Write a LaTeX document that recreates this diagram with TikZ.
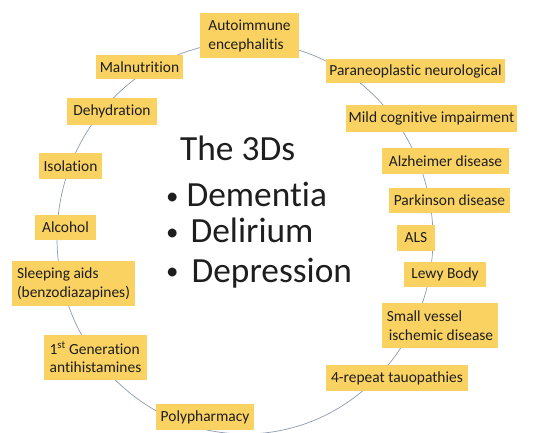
\documentclass[tikz,border=0pt]{standalone}
\usepackage{fontspec}
\setmainfont{Carlito}[Ligatures={NoCommon}]
\definecolor{amarillo}{HTML}{F9D262}
\definecolor{gris}{HTML}{8E9AAE}
\definecolor{tinta}{HTML}{1E1E1E}
\newcommand{\vineta}{\raisebox{2.5bp}{\fontsize{25}{25}\selectfont •}}

\begin{document}
\begin{tikzpicture}[x=1bp, y=-1bp,
        caja/.style={fill=amarillo, text=tinta, inner sep=2bp, align=left,
            font=\fontsize{15.5}{19}\selectfont},
        lema/.style={anchor=base west, text=tinta, inner sep=0pt,
            font=\fontsize{35.5}{42}\selectfont}]
        % Parámetros
        \def\rx{188}     % Semieje horizontal del anillo
        \def\ry{196}     % Semieje vertical del anillo

        \useasboundingbox (0,0) rectangle (534,433);

        % Dibujar el anillo
        \coordinate (ctr) at (245,238);
        \draw[gris, line width=0.7bp] (ctr) ellipse [x radius=\rx, y radius=\ry];

        % Causas a la izquierda
        \node[caja, minimum width=87bp, minimum height=24bp] (maln) at (139.5,67) {Malnutrition};
        \node[caja, minimum width=90bp, minimum height=27bp] (dehy) at (112,111.5) {Dehydration};
        \node[caja, minimum width=63bp, minimum height=26bp] (isol) at (70.5,166) {Isolation};
        \node[caja, minimum width=61bp, minimum height=25bp] (alco) at (65.5,227.5) {Alcohol};
        \node[caja, minimum width=123bp, minimum height=45bp] (sleep) at (73.5,283.5) {Sleeping aids\\(benzodiazapines)};
        \node[caja, minimum width=103bp, minimum height=45bp] (antih) at (95.5,357.5) {1\textsuperscript{st} Generation\\antihistamines};
        \node[caja, minimum width=98bp, minimum height=26bp] (poly) at (205,417) {Polypharmacy};

        % Causas arriba y a la derecha
        \node[caja, minimum width=99bp, minimum height=45bp] (auto) at (249.5,35.5) {Autoimmune\\encephalitis};
        \node[caja, minimum width=179bp, minimum height=24bp] (para) at (415.5,71) {Paraneoplastic neurological};
        \node[caja, minimum width=171bp, minimum height=27bp] (mci) at (431.5,118.5) {Mild cognitive impairment};
        \node[caja, minimum width=127bp, minimum height=26bp] (alz) at (445.5,161) {Alzheimer disease};
        \node[caja, minimum width=121bp, minimum height=25bp] (park) at (449.5,200.5) {Parkinson disease};
        \node[caja, minimum width=38bp, minimum height=26bp] (als) at (416,238) {ALS};
        \node[caja, minimum width=82bp, minimum height=25bp] (lewy) at (445,274.5) {Lewy Body};
        \node[caja, minimum width=116bp, minimum height=45bp] (svid) at (440,325.5) {Small vessel\\\hspace{2bp}ischemic disease};
        \node[caja, minimum width=142bp, minimum height=26bp] (tauo) at (397,378) {4-repeat tauopathies};

        % Texto central
        \node[lema] (tres) at (180,161) {The 3Ds};
        \node[lema] (deme) at (166,207) {\vineta\hspace{8bp}Dementia};
        \node[lema] (deli) at (166,243) {\vineta\hspace{12bp}Delirium};
        \node[lema] (depr) at (166,282) {\vineta\hspace{13bp}Depression};
    \end{tikzpicture}
\end{document}
